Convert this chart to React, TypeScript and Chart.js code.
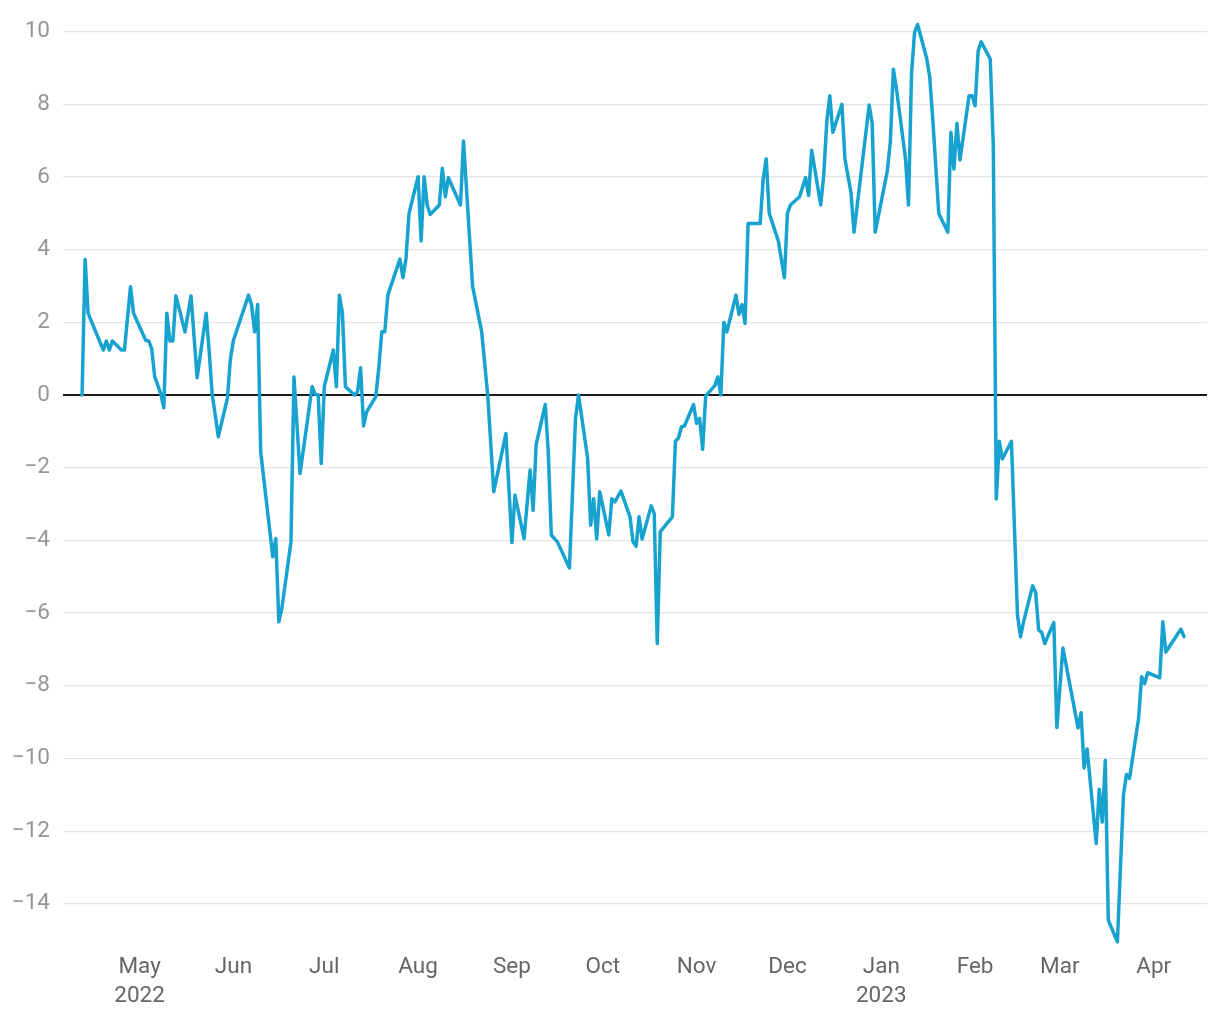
import React, { useEffect, useRef } from "react";
import { Chart, registerables } from "chart.js";

Chart.register(...registerables);

const dates: string[] = [
  "2022-04-12","2022-04-13","2022-04-14","2022-04-19","2022-04-20","2022-04-21","2022-04-22","2022-04-25","2022-04-26","2022-04-28",
  "2022-04-29","2022-05-03","2022-05-04","2022-05-05","2022-05-06","2022-05-08","2022-05-09","2022-05-10","2022-05-11","2022-05-12",
  "2022-05-13","2022-05-16","2022-05-18","2022-05-20","2022-05-23","2022-05-24","2022-05-25","2022-05-26","2022-05-27","2022-05-30",
  "2022-05-31","2022-06-01","2022-06-06","2022-06-07","2022-06-08","2022-06-09","2022-06-10","2022-06-14","2022-06-15","2022-06-16",
  "2022-06-17","2022-06-20","2022-06-21","2022-06-23","2022-06-27","2022-06-28","2022-06-29","2022-06-30","2022-07-01","2022-07-04",
  "2022-07-05","2022-07-06","2022-07-07","2022-07-08","2022-07-11","2022-07-12","2022-07-13","2022-07-14","2022-07-15","2022-07-18",
  "2022-07-19","2022-07-20","2022-07-21","2022-07-22","2022-07-26","2022-07-27","2022-07-28","2022-07-29","2022-08-01","2022-08-02",
  "2022-08-03","2022-08-04","2022-08-05","2022-08-08","2022-08-09","2022-08-10","2022-08-11","2022-08-15","2022-08-16","2022-08-19",
  "2022-08-22","2022-08-24","2022-08-26","2022-08-30","2022-09-01","2022-09-02","2022-09-05","2022-09-07","2022-09-08","2022-09-09",
  "2022-09-12","2022-09-13","2022-09-14","2022-09-16","2022-09-20","2022-09-22","2022-09-23","2022-09-26","2022-09-27","2022-09-28",
  "2022-09-29","2022-09-30","2022-10-03","2022-10-04","2022-10-05","2022-10-07","2022-10-10","2022-10-11","2022-10-12","2022-10-13",
  "2022-10-14","2022-10-17","2022-10-18","2022-10-19","2022-10-20","2022-10-24","2022-10-25","2022-10-26","2022-10-27","2022-10-28",
  "2022-10-31","2022-11-01","2022-11-02","2022-11-03","2022-11-04","2022-11-07","2022-11-08","2022-11-09","2022-11-10","2022-11-11",
  "2022-11-14","2022-11-15","2022-11-16","2022-11-17","2022-11-18","2022-11-22","2022-11-23","2022-11-24","2022-11-25","2022-11-28",
  "2022-11-30","2022-12-01","2022-12-02","2022-12-05","2022-12-07","2022-12-08","2022-12-09","2022-12-12","2022-12-13","2022-12-14",
  "2022-12-15","2022-12-16","2022-12-19","2022-12-20","2022-12-22","2022-12-23","2022-12-28","2022-12-29","2022-12-30","2023-01-03",
  "2023-01-04","2023-01-05","2023-01-06","2023-01-09","2023-01-10","2023-01-11","2023-01-12","2023-01-13","2023-01-16","2023-01-17",
  "2023-01-18","2023-01-20","2023-01-23","2023-01-24","2023-01-25","2023-01-26","2023-01-27","2023-01-30","2023-01-31","2023-02-01",
  "2023-02-02","2023-02-03","2023-02-06","2023-02-07","2023-02-08","2023-02-09","2023-02-10","2023-02-13","2023-02-15","2023-02-16",
  "2023-02-17","2023-02-20","2023-02-21","2023-02-22","2023-02-23","2023-02-24","2023-02-27","2023-02-28","2023-03-02","2023-03-07",
  "2023-03-08","2023-03-09","2023-03-10","2023-03-13","2023-03-14","2023-03-15","2023-03-16","2023-03-17","2023-03-20","2023-03-22",
  "2023-03-23","2023-03-24","2023-03-27","2023-03-28","2023-03-29","2023-03-30","2023-04-03","2023-04-04","2023-04-05","2023-04-10",
  "2023-04-11",
];

const values: number[] = [
  0, 3.74, 2.25, 1.24, 1.49, 1.24, 1.49, 1.24, 1.24, 2.98,
  2.25, 1.51, 1.49, 1.28, 0.5, 0.04, -0.35, 2.25, 1.49, 1.49,
  2.73, 1.74, 2.73, 0.48, 2.25, 1.19, 0, -0.55, -1.15, -0.09,
  1.0, 1.51, 2.75, 2.48, 1.74, 2.49, -1.56, -4.45, -3.95, -6.24,
  -5.87, -4.04, 0.5, -2.16, 0.23, 0.02, 0, -1.88, 0.23, 1.24,
  0.23, 2.75, 2.25, 0.23, 0, 0.09, 0.75, -0.85, -0.46, -0.05,
  0.73, 1.74, 1.74, 2.75, 3.74, 3.23, 3.76, 5.0, 6.01, 4.24,
  6.01, 5.23, 4.97, 5.23, 6.24, 5.46, 5.98, 5.23, 6.99, 3.0,
  1.74, 0, -2.66, -1.06, -4.06, -2.75, -3.95, -2.06, -3.17, -1.36,
  -0.26, -1.56, -3.85, -4.04, -4.76, -0.64, 0, -1.74, -3.58, -2.85,
  -3.96, -2.66, -3.85, -2.85, -2.94, -2.64, -3.35, -4.04, -4.16, -3.35,
  -3.96, -3.05, -3.26, -6.84, -3.76, -3.35, -1.27, -1.18, -0.87, -0.85,
  -0.26, -0.78, -0.64, -1.49, -0.02, 0.26, 0.5, 0, 2.0, 1.74,
  2.75, 2.22, 2.49, 1.97, 4.72, 4.72, 5.96, 6.5, 5.0, 4.24,
  3.23, 5.0, 5.23, 5.46, 5.98, 5.49, 6.74, 5.23, 6.06, 7.52,
  8.24, 7.23, 8.0, 6.5, 5.57, 4.48, 7.98, 7.48, 4.48, 6.17,
  6.97, 8.97, 8.44, 6.51, 5.23, 8.85, 9.98, 10.2, 9.27, 8.76,
  7.61, 5.0, 4.48, 7.23, 6.22, 7.48, 6.47, 8.24, 8.24, 7.96,
  9.47, 9.72, 9.25, 6.88, -2.86, -1.27, -1.76, -1.27, -6.06, -6.65,
  -6.24, -5.25, -5.43, -6.47, -6.53, -6.84, -6.26, -9.15, -6.96, -9.16,
  -8.74, -10.26, -9.74, -12.34, -10.85, -11.75, -10.05, -14.45, -15.05, -11.01,
  -10.44, -10.55, -8.9, -7.75, -7.94, -7.64, -7.78, -6.24, -7.07, -6.44,
  -6.65,
];

const monthTicks: string[] = [
  "2022-05-01","2022-06-01","2022-07-01","2022-08-01","2022-09-01","2022-10-01",
  "2022-11-01","2022-12-01","2023-01-01","2023-02-01","2023-03-01","2023-04-01",
];
const monthLabels: string[] = ["May","Jun","Jul","Aug","Sep","Oct","Nov","Dec","Jan","Feb","Mar","Apr"];
const yearLabels: Record<string, string> = { "2022-05-01": "2022", "2023-01-01": "2023" };
const yTicks: number[] = [-14, -12, -10, -8, -6, -4, -2, 0, 2, 4, 6, 8, 10];

const DAY = 86400000;
const T0 = Date.parse("2022-04-12T00:00:00Z");
const toDay = (d: string) => (Date.parse(d + "T00:00:00Z") - T0) / DAY;

export default function App() {
  const ref = useRef<HTMLCanvasElement | null>(null);

  useEffect(() => {
    if (!ref.current) return;
    const points = dates.map((d, i) => ({ x: toDay(d), y: values[i] }));
    const tickDays = monthTicks.map(toDay);
    const chart = new Chart(ref.current, {
      type: "line",
      data: {
        datasets: [
          {
            data: points,
            borderColor: "#18a2cf",
            borderWidth: 3.5,
            pointRadius: 0,
            tension: 0,
            borderJoinStyle: "round",
            borderCapStyle: "round",
          },
        ],
      },
      options: {
        animation: false,
        responsive: false,
        layout: { padding: { top: 12.8, right: 5, left: 0, bottom: 0 } },
        plugins: { legend: { display: false }, tooltip: { enabled: false } },
        scales: {
          x: {
            type: "linear",
            min: -6.3,
            max: 371.6,
            grid: { display: false },
            border: { display: false },
            afterBuildTicks: (s: any) => {
              s.ticks = tickDays.map((v) => ({ value: v }));
            },
            afterFit: (s: any) => {
              s.height = 64.6;
              s.paddingLeft = 0;
              s.paddingRight = 0;
            },
            ticks: {
              autoSkip: false,
              maxRotation: 0,
              minRotation: 0,
              padding: -3,
              color: "#666666",
              font: { family: "Roboto", size: 22.5, lineHeight: 1.3 },
              callback: (v: any) => {
                const i = tickDays.indexOf(Number(v));
                if (i < 0) return "";
                const y = yearLabels[monthTicks[i]];
                return y ? [monthLabels[i], y] : monthLabels[i];
              },
            },
          },
          y: {
            min: -15.2,
            max: 10.3,
            border: { display: false },
            grid: {
              drawTicks: false,
              color: (c: any) => (c.tick && c.tick.value === 0 ? "#1a1a1a" : "#e4e4e4"),
              lineWidth: (c: any) => (c.tick && c.tick.value === 0 ? 2 : 1.2),
            },
            afterBuildTicks: (s: any) => {
              s.ticks = yTicks.map((v) => ({ value: v }));
            },
            afterFit: (s: any) => {
              s.width = 55;
              s.paddingTop = 0;
              s.paddingBottom = 0;
            },
            ticks: {
              padding: 13,
              color: "#969696",
              font: { family: "Roboto", size: 22.5 },
              callback: (v: any) => (Number(v) < 0 ? "\u2212" + Math.abs(Number(v)) : String(v)),
            },
          },
        },
      },
    });
    return () => chart.destroy();
  }, []);

  return (
    <div style={{ width: 1204, height: 1004 }}>
      <canvas ref={ref} width={1204} height={1004} style={{ display: "block" }} />
    </div>
  );
}
